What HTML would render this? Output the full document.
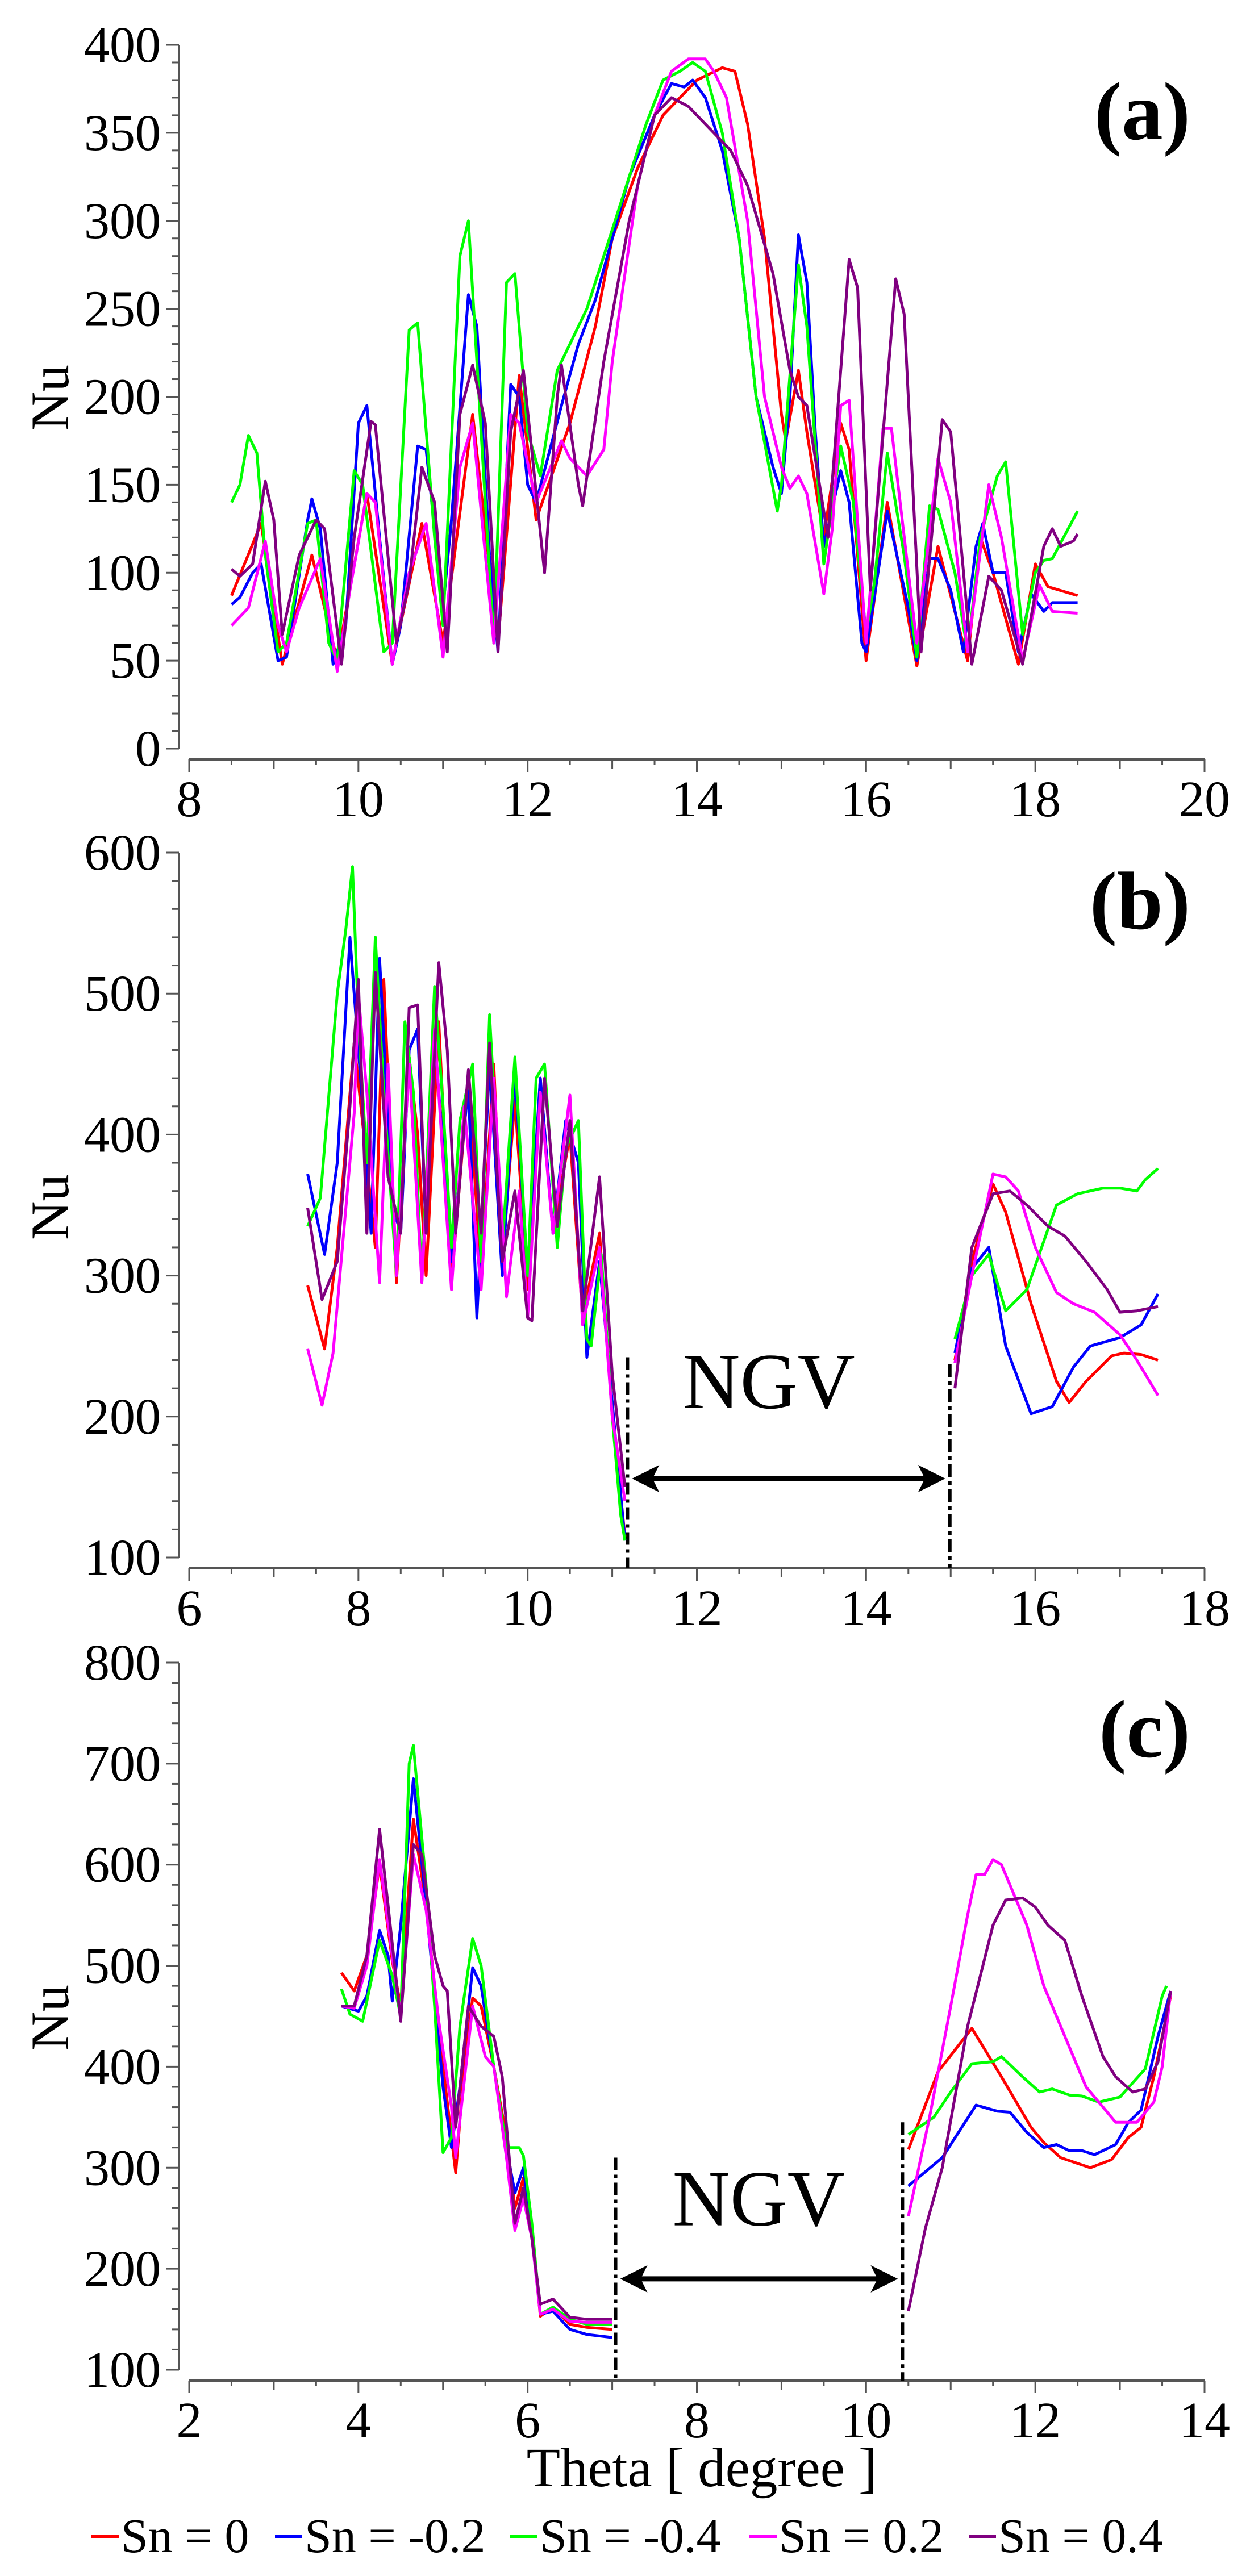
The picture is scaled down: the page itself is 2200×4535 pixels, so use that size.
<!DOCTYPE html>
<html><head><meta charset="utf-8"><style>
html,body{margin:0;padding:0;background:#fff;}
svg{display:block;}
svg text{font-family:"Liberation Serif","Times New Roman",Times,serif;}
</style></head><body>
<svg id="fig" width="2200" height="4535" viewBox="0 0 2200 4535" xmlns="http://www.w3.org/2000/svg" font-family="Liberation Serif, serif"></svg>
<script>
// ---------- Panel (a) data ----------
const a_red_x=[8.5,8.85,9.1,9.45,9.75,10.1,10.4,10.75,11.0,11.35,11.65,11.9,12.1,12.5,12.8,13.0,13.3,13.6,14.0,14.3,14.45,14.6,14.8,15.0,15.05,15.2,15.3,15.5,15.7,15.8,16.0,16.25,16.6,16.85,17.2,17.35,17.5,17.8,18.0,18.15,18.5];
const a_red_y=[87,128,48,110,50,145,48,128,60,190,60,212,130,185,240,290,330,360,380,387,385,355,290,190,175,215,180,120,185,170,50,140,47,115,50,120,100,48,105,92,87];
const a_blue_x=[8.5,8.6,8.75,8.85,9.05,9.15,9.4,9.45,9.55,9.7,9.85,10.0,10.1,10.25,10.4,10.5,10.7,10.8,11.0,11.1,11.3,11.4,11.55,11.65,11.8,11.9,12.0,12.1,12.4,12.6,12.8,13.0,13.2,13.5,13.7,13.85,13.95,14.1,14.3,14.5,14.7,14.9,15.0,15.1,15.2,15.3,15.4,15.5,15.7,15.8,15.95,16.0,16.25,16.5,16.6,16.75,16.85,17.0,17.15,17.3,17.38,17.5,17.65,17.8,17.95,18.1,18.2,18.5];
const a_blue_y=[82,86,100,105,50,52,130,142,125,48,70,185,195,120,48,70,172,170,80,130,258,240,110,55,207,200,150,140,195,230,255,290,325,360,378,376,380,370,340,290,200,160,145,200,292,265,180,115,158,140,60,55,135,80,50,108,108,90,55,115,128,100,100,55,88,78,83,83];
const a_green_x=[8.5,8.6,8.7,8.8,8.9,9.05,9.15,9.4,9.5,9.65,9.75,9.95,10.05,10.3,10.4,10.6,10.7,10.9,11.0,11.2,11.3,11.4,11.6,11.75,11.85,12.0,12.15,12.35,12.5,12.7,12.9,13.1,13.4,13.6,13.8,13.95,14.1,14.3,14.5,14.7,14.95,15.0,15.2,15.3,15.5,15.7,15.85,16.0,16.1,16.25,16.45,16.6,16.75,16.85,17.05,17.2,17.35,17.55,17.65,17.85,18.0,18.1,18.2,18.5];
const a_green_y=[140,150,178,168,110,55,60,128,130,60,50,158,150,55,60,238,242,120,70,280,300,220,60,265,270,180,155,215,230,250,280,310,355,380,385,390,385,350,290,200,135,150,275,240,105,172,140,65,95,168,110,52,138,136,100,55,120,155,163,65,100,107,108,135];
const a_mag_x=[8.5,8.7,8.9,9.05,9.15,9.3,9.55,9.75,9.9,10.1,10.2,10.4,10.6,10.8,11.0,11.2,11.35,11.6,11.8,11.9,12.1,12.4,12.5,12.7,12.9,13.0,13.3,13.5,13.7,13.9,14.1,14.2,14.35,14.6,14.8,15.0,15.1,15.2,15.3,15.5,15.6,15.7,15.8,16.0,16.2,16.3,16.5,16.6,16.85,17.0,17.2,17.45,17.6,17.85,18.05,18.2,18.5];
const a_mag_y=[70,80,118,70,55,80,108,44,90,145,140,48,100,128,52,160,185,60,190,185,140,175,165,155,170,220,320,360,385,392,392,385,370,300,200,160,148,155,145,88,125,195,198,60,182,182,100,60,165,140,55,150,120,50,93,78,77];
const a_pur_x=[8.5,8.6,8.75,8.9,9.0,9.1,9.3,9.5,9.6,9.8,9.95,10.15,10.2,10.45,10.6,10.75,10.9,11.05,11.2,11.35,11.5,11.65,11.8,11.95,12.2,12.35,12.4,12.6,12.65,12.9,13.2,13.5,13.7,13.9,14.0,14.2,14.4,14.6,14.9,15.1,15.2,15.3,15.55,15.8,15.9,16.05,16.35,16.45,16.65,16.9,17.0,17.25,17.45,17.6,17.85,18.1,18.2,18.3,18.45,18.5];
const a_pur_y=[102,98,105,152,130,65,110,130,125,48,120,186,184,60,95,160,140,55,190,218,185,55,180,215,100,200,218,150,138,220,300,360,370,365,360,350,340,320,270,215,200,195,120,278,262,90,267,247,55,187,180,48,98,90,48,115,125,115,118,122];
const a_xticks=[8,10,12,14,16,18,20];
const a_yticks=[0,50,100,150,200,250,300,350,400];

// ---------- Panel (b) data ----------
const b_red_x=[7.4,7.6,7.75,7.95,8.1,8.2,8.3,8.45,8.6,8.7,8.8,8.95,9.1,9.3,9.45,9.6,9.7,9.85,10.0,10.15,10.3,10.5,10.65,10.85,11.0,11.15];
const b_red_y=[293,248,320,465,380,320,510,295,455,400,300,480,295,440,300,450,310,425,290,440,330,400,270,330,200,115];
const b_red2_x=[15.05,15.25,15.5,15.65,15.95,16.25,16.4,16.6,16.9,17.05,17.25,17.45];
const b_red2_y=[240,310,365,345,280,225,210,225,243,245,244,240];
const b_blue_x=[7.4,7.6,7.75,7.9,8.05,8.15,8.25,8.4,8.5,8.6,8.7,8.8,8.9,9.0,9.1,9.3,9.4,9.55,9.7,9.85,10.0,10.15,10.3,10.45,10.6,10.7,10.85,11.0,11.15];
const b_blue_y=[372,315,380,540,420,330,525,350,330,460,475,330,470,390,310,435,270,450,300,445,300,440,330,410,380,242,310,210,112];
const b_blue2_x=[15.05,15.25,15.45,15.65,15.95,16.2,16.45,16.65,17.0,17.25,17.45];
const b_blue2_y=[245,305,320,250,202,207,235,250,256,265,287];
const b_green_x=[7.4,7.55,7.75,7.85,7.93,8.0,8.1,8.2,8.3,8.45,8.55,8.65,8.75,8.9,9.0,9.1,9.2,9.35,9.45,9.55,9.7,9.85,10.0,10.1,10.2,10.35,10.45,10.6,10.7,10.75,10.87,11.0,11.1,11.15];
const b_green_y=[335,355,500,545,590,480,380,540,430,300,480,430,295,505,420,320,410,450,310,485,320,455,300,440,450,320,390,410,255,250,315,200,130,112];
const b_green2_x=[15.05,15.25,15.45,15.65,15.9,16.25,16.5,16.8,17.0,17.2,17.3,17.45];
const b_green2_y=[255,300,315,275,290,350,358,362,362,360,368,376];
const b_mag_x=[7.4,7.57,7.7,7.95,8.0,8.1,8.25,8.35,8.45,8.6,8.75,8.9,9.1,9.25,9.45,9.6,9.75,9.9,10.0,10.15,10.3,10.5,10.65,10.85,11.0,11.15];
const b_mag_y=[248,208,245,415,500,430,295,450,300,450,295,475,290,420,290,440,285,360,270,430,330,428,265,320,200,140];
const b_mag2_x=[15.05,15.25,15.5,15.65,15.8,16.0,16.25,16.45,16.7,17.0,17.2,17.45];
const b_mag2_y=[238,300,372,370,360,320,288,280,274,258,240,215];
const b_pur_x=[7.4,7.57,7.75,7.9,8.0,8.1,8.2,8.35,8.5,8.6,8.7,8.8,8.95,9.05,9.15,9.3,9.45,9.55,9.7,9.85,10.0,10.05,10.2,10.35,10.5,10.65,10.85,11.0,11.15];
const b_pur_y=[348,283,310,420,510,330,515,370,330,490,492,330,522,460,330,446,330,465,310,360,270,268,440,335,410,275,370,230,150];
const b_pur2_x=[15.05,15.25,15.5,15.7,15.9,16.15,16.35,16.6,16.85,17.0,17.2,17.45];
const b_pur2_y=[220,320,358,360,350,335,328,310,290,274,275,278];
const b_xticks=[6,8,10,12,14,16,18];
const b_yticks=[100,200,300,400,500,600];

// ---------- Panel (c) data ----------
const c_red_x=[3.8,3.95,4.1,4.25,4.4,4.5,4.65,4.8,4.9,5.0,5.1,5.15,5.25,5.35,5.45,5.6,5.75,5.85,5.95,6.05,6.15,6.3,6.5,6.7,7.0];
const c_red_y=[493,475,510,600,505,460,645,560,480,400,330,295,400,468,460,400,330,260,290,240,153,162,145,142,140];
const c_red2_x=[10.5,10.85,11.25,11.6,11.95,12.1,12.3,12.65,12.9,13.1,13.25,13.4,13.6];
const c_red2_y=[318,395,438,390,340,325,310,300,308,330,340,390,470];
const c_blue_x=[3.8,4.0,4.1,4.25,4.35,4.4,4.5,4.65,4.8,4.9,5.0,5.1,5.2,5.35,5.45,5.6,5.75,5.85,5.95,6.05,6.15,6.3,6.5,6.7,7.0];
const c_blue_y=[460,455,470,535,510,465,540,685,560,470,380,320,380,498,480,400,320,275,300,240,155,158,140,135,132];
const c_blue2_x=[10.5,10.9,11.3,11.55,11.7,11.9,12.1,12.25,12.4,12.55,12.7,12.95,13.1,13.25,13.45,13.6];
const c_blue2_y=[282,310,362,356,355,335,320,323,317,317,313,323,345,357,430,475];
const c_green_x=[3.8,3.9,4.05,4.25,4.4,4.5,4.6,4.65,4.8,4.9,5.0,5.1,5.2,5.35,5.45,5.6,5.75,5.9,5.95,6.05,6.15,6.3,6.5,6.7,7.0];
const c_green_y=[477,452,445,525,490,450,700,718,580,460,315,330,440,527,500,400,320,320,312,245,155,162,150,145,145];
const c_green2_x=[10.5,10.8,11.0,11.25,11.5,11.6,11.85,12.05,12.2,12.4,12.55,12.75,13.0,13.3,13.5,13.55];
const c_green2_y=[333,350,375,403,405,410,390,375,378,372,371,365,370,398,470,480];
const c_mag_x=[3.8,3.95,4.1,4.25,4.4,4.5,4.65,4.8,4.95,5.1,5.15,5.35,5.5,5.6,5.75,5.85,5.95,6.05,6.15,6.3,6.5,6.7,7.0];
const c_mag_y=[460,458,500,605,510,450,610,555,445,360,310,460,410,400,310,238,270,230,155,160,148,147,147];
const c_mag2_x=[10.5,10.75,11.0,11.2,11.3,11.4,11.5,11.6,11.9,12.1,12.4,12.6,12.8,12.95,13.2,13.4,13.5,13.6];
const c_mag2_y=[252,350,460,550,590,590,605,600,540,480,420,380,360,345,345,365,400,475];
const c_pur_x=[3.8,3.95,4.1,4.25,4.35,4.5,4.65,4.75,4.9,5.0,5.05,5.15,5.3,5.45,5.6,5.7,5.85,5.95,6.05,6.15,6.3,6.5,6.7,7.0];
const c_pur_y=[460,460,510,635,560,445,620,610,510,480,475,340,460,440,430,390,245,280,230,165,170,152,150,150];
const c_pur2_x=[10.5,10.7,10.9,11.2,11.35,11.5,11.65,11.85,12.0,12.15,12.35,12.55,12.8,12.95,13.15,13.3,13.45,13.6];
const c_pur2_y=[158,240,300,440,490,540,565,567,558,540,525,470,410,390,375,378,405,475];
const c_xticks=[2,4,6,8,10,12,14];
const c_yticks=[100,200,300,400,500,600,700,800];

const series_names=["Sn = 0","Sn = -0.2","Sn = -0.4","Sn = 0.2","Sn = 0.4"];
const series_colors=["#ff0000","#0000ff","#00ff00","#ff00ff","#800080"];

const NS="http://www.w3.org/2000/svg";
const svg=document.getElementById('fig');
const FF='"Liberation Serif","Times New Roman",serif';
function mk(tag,attrs,parent){const e=document.createElementNS(NS,tag);for(const k in attrs)e.setAttribute(k,attrs[k]);if(tag==='text')e.style.fontFamily=FF;(parent||svg).appendChild(e);return e;}
const AX="#555";

function panel(cfg){
  const g=mk('g',{});
  
  
  const sx=v=>cfg.px0+(v-cfg.x0)/(cfg.x1-cfg.x0)*(cfg.px1-cfg.px0);
  const sy=v=>cfg.py0+(v-cfg.y0)/(cfg.y1-cfg.y0)*(cfg.py1-cfg.py0);
  const axB=cfg.py0+19;
  const ya=mk('line',{x1:315,y1:cfg.py0,x2:315,y2:cfg.py1,stroke:AX,'stroke-width':4},g);
  
  
  for(let v=cfg.y0;v<=cfg.y1+1e-9;v+=cfg.yminor){
    const major=cfg.yticks.some(t=>Math.abs(t-v)<1e-6);
    mk('line',{x1:315-(major?22:12),y1:sy(v),x2:315,y2:sy(v),stroke:AX,'stroke-width':3},g);
  }
  cfg.yticks.forEach(t=>{
    const tx=mk('text',{x:283,y:sy(t)+30,'text-anchor':'end','font-size':90,fill:'#000'},g);
    tx.textContent=t;
    
    
  });
  const xa=mk('line',{x1:cfg.px0,y1:axB,x2:cfg.px1,y2:axB,stroke:AX,'stroke-width':4},g);
  
  
  for(let v=cfg.x0;v<=cfg.x1+1e-9;v+=0.5){
    const isInt=Math.abs(v-Math.round(v))<1e-6;
    const major=cfg.xticks.some(t=>Math.abs(t-v)<1e-6);
    mk('line',{x1:sx(v),y1:axB,x2:sx(v),y2:axB+(major?22:isInt?16:10),stroke:AX,'stroke-width':3},g);
  }
  cfg.xticks.forEach(t=>{
    const tx=mk('text',{x:sx(t),y:axB+100,'text-anchor':'middle','font-size':90,fill:'#000'},g);
    tx.textContent=t;
    
    
  });
  const yt=mk('text',{x:0,y:0,transform:`translate(120,${cfg.nuY}) rotate(-90)`,'text-anchor':'middle','font-size':95,fill:'#000'},g);
  yt.textContent='Nu';
  
  
  const pl=mk('text',{x:2095,y:cfg.labY,'text-anchor':'end','font-size':145,'font-weight':'bold',fill:'#000'},g);
  pl.textContent='('+cfg.id+')';
  
  
  if(cfg.ngv){
    const n=cfg.ngv;
    [[n.xa,n.ya],[n.xb,n.yb]].forEach(([x,yv])=>{
      const d=mk('line',{x1:sx(x),y1:sy(yv),x2:sx(x),y2:axB,stroke:'#000','stroke-width':6,'stroke-dasharray':'22 8 6 8'},g);
      
      
    });
    const ay=sy(n.arrowY), xL=sx(n.xa)+8, xR=sx(n.xb)-8;
    const ar=mk('g',{},g);
    
    
    mk('line',{x1:xL+30,y1:ay,x2:xR-30,y2:ay,stroke:'#000','stroke-width':9},ar);
    mk('polygon',{points:`${xL},${ay} ${xL+48},${ay-24} ${xL+36},${ay} ${xL+48},${ay+24}`,fill:'#000'},ar);
    mk('polygon',{points:`${xR},${ay} ${xR-48},${ay-24} ${xR-36},${ay} ${xR-48},${ay+24}`,fill:'#000'},ar);
    const nt=mk('text',{x:sx(n.textX),y:sy(n.textY),'text-anchor':'middle','font-size':140,fill:'#000'},g);
    nt.textContent='NGV';
    
    
  }
  cfg.series.forEach((s,i)=>{
    const pts=s.x.map((xv,k)=>sx(xv).toFixed(1)+','+sy(s.y[k]).toFixed(1)).join(' ');
    const pl=mk('polyline',{points:pts,fill:'none',stroke:series_colors[s.c],'stroke-width':5,'stroke-linejoin':'round'},g);
    
    
  });
}

panel({id:'a',x0:8,x1:20,px0:333,px1:2120,y0:0,y1:400,py0:1318,py1:79,yminor:10,
  yticks:a_yticks,xticks:a_xticks,nuY:700,labY:245,
  series:[{x:a_red_x,y:a_red_y,c:0,name:'sn-0'},{x:a_blue_x,y:a_blue_y,c:1,name:'sn-m0.2'},{x:a_green_x,y:a_green_y,c:2,name:'sn-m0.4'},{x:a_mag_x,y:a_mag_y,c:3,name:'sn-0.2'},{x:a_pur_x,y:a_pur_y,c:4,name:'sn-0.4'}]});
panel({id:'b',x0:6,x1:18,px0:333,px1:2120,y0:100,y1:600,py0:2742,py1:1501,yminor:20,
  yticks:b_yticks,xticks:b_xticks,nuY:2125,labY:1635,
  ngv:{xa:11.18,ya:242,xb:14.99,yb:237,arrowY:156,textX:12.85,textY:206},
  series:[{x:b_red_x,y:b_red_y,c:0,name:'sn-0'},{x:b_red2_x,y:b_red2_y,c:0,name:'sn-0-right'},
  {x:b_blue_x,y:b_blue_y,c:1,name:'sn-m0.2'},{x:b_blue2_x,y:b_blue2_y,c:1,name:'sn-m0.2-right'},
  {x:b_green_x,y:b_green_y,c:2,name:'sn-m0.4'},{x:b_green2_x,y:b_green2_y,c:2,name:'sn-m0.4-right'},
  {x:b_mag_x,y:b_mag_y,c:3,name:'sn-0.2'},{x:b_mag2_x,y:b_mag2_y,c:3,name:'sn-0.2-right'},
  {x:b_pur_x,y:b_pur_y,c:4,name:'sn-0.4'},{x:b_pur2_x,y:b_pur2_y,c:4,name:'sn-0.4-right'}]});
panel({id:'c',x0:2,x1:14,px0:333,px1:2120,y0:100,y1:800,py0:4172,py1:2927,yminor:20,
  yticks:c_yticks,xticks:c_xticks,nuY:3552,labY:3093,
  ngv:{xa:7.04,ya:310,xb:10.43,yb:345,arrowY:190,textX:8.73,textY:243},
  series:[{x:c_red_x,y:c_red_y,c:0,name:'sn-0'},{x:c_red2_x,y:c_red2_y,c:0,name:'sn-0-right'},
  {x:c_blue_x,y:c_blue_y,c:1,name:'sn-m0.2'},{x:c_blue2_x,y:c_blue2_y,c:1,name:'sn-m0.2-right'},
  {x:c_green_x,y:c_green_y,c:2,name:'sn-m0.4'},{x:c_green2_x,y:c_green2_y,c:2,name:'sn-m0.4-right'},
  {x:c_mag_x,y:c_mag_y,c:3,name:'sn-0.2'},{x:c_mag2_x,y:c_mag2_y,c:3,name:'sn-0.2-right'},
  {x:c_pur_x,y:c_pur_y,c:4,name:'sn-0.4'},{x:c_pur2_x,y:c_pur2_y,c:4,name:'sn-0.4-right'}]});

const xt=mk('text',{x:1235,y:4377,'text-anchor':'middle','font-size':97,fill:'#000'});
xt.textContent='Theta [ degree ]';



const legX=[161,484,898,1319,1705];
const lg=mk('g',{});


series_names.forEach((nm,i)=>{
  const e=mk('g',{},lg);
  
  
  mk('line',{x1:legX[i],y1:4465,x2:legX[i]+48,y2:4465,stroke:series_colors[i],'stroke-width':6},e);
  const t=mk('text',{x:legX[i]+52,y:4493,'font-size':86,fill:'#000'},e);
  t.textContent=nm;
});
</script>
</body></html>
